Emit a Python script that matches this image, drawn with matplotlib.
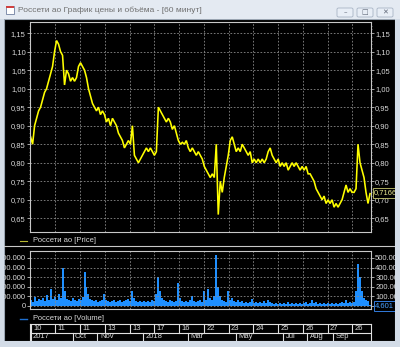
import matplotlib
matplotlib.use("Agg")
import matplotlib.pyplot as plt
from matplotlib.patches import Rectangle, FancyBboxPatch
from matplotlib.lines import Line2D
import numpy as np

# hourly price, read roughly every 2 px of the chart
price = [
    0.87, 0.85, 0.90, 0.92, 0.94, 0.95, 0.97, 0.99, 1.00, 1.02,
    1.04, 1.06, 1.10, 1.13, 1.12, 1.10, 1.09, 1.01, 1.05, 1.04,
    1.02, 1.03, 1.02, 1.03, 1.06, 1.07, 1.06, 1.05, 1.03, 1.00,
    0.98, 0.96, 0.95, 0.94, 0.95, 0.93, 0.94, 0.93, 0.91, 0.92,
    0.90, 0.92, 0.91, 0.90, 0.88, 0.87, 0.86, 0.84, 0.85, 0.86,
    0.85, 0.90, 0.82, 0.81, 0.80, 0.81, 0.82, 0.83, 0.84, 0.83,
    0.84, 0.83, 0.82, 0.83, 0.95, 0.94, 0.93, 0.92, 0.91, 0.92,
    0.91, 0.89, 0.90, 0.88, 0.86, 0.85, 0.855, 0.85, 0.86, 0.84,
    0.83, 0.84, 0.83, 0.82, 0.83, 0.82, 0.81, 0.79, 0.78, 0.77,
    0.76, 0.77, 0.76, 0.85, 0.66, 0.75, 0.72, 0.76, 0.79, 0.82,
    0.86, 0.87, 0.85, 0.83, 0.84, 0.83, 0.85, 0.84, 0.83, 0.82,
    0.83, 0.80, 0.81, 0.80, 0.81, 0.80, 0.81, 0.80, 0.81, 0.83,
    0.84, 0.82, 0.81, 0.80, 0.81, 0.79, 0.80, 0.79, 0.80, 0.78,
    0.79, 0.80, 0.79, 0.80, 0.79, 0.78, 0.79, 0.78, 0.79, 0.77,
    0.77, 0.76, 0.75, 0.73, 0.72, 0.71, 0.70, 0.71, 0.69, 0.70,
    0.69, 0.70, 0.68, 0.69, 0.68, 0.69, 0.70, 0.72, 0.74, 0.72,
    0.73, 0.72, 0.72, 0.73, 0.85, 0.80, 0.78, 0.76, 0.72, 0.69,
    0.7166,
]

# volume in thousands
volume = [
    60, 40, 90, 50, 70, 60, 80, 50, 110, 60,
    180, 70, 90, 60, 120, 80, 390, 150, 70, 60,
    50, 80, 60, 50, 70, 60, 90, 350, 200, 120,
    70, 60, 50, 60, 40, 50, 60, 120, 60, 50,
    40, 50, 60, 40, 50, 60, 40, 50, 60, 70,
    50, 150, 80, 50, 40, 50, 40, 50, 40, 50,
    40, 60, 50, 120, 300, 150, 80, 60, 50, 40,
    60, 50, 40, 50, 240, 80, 50, 40, 50, 40,
    60, 100, 50, 40, 50, 60, 40, 150, 60, 180,
    80, 60, 100, 530, 200, 100, 60, 50, 40, 150,
    60, 80, 50, 40, 60, 40, 50, 30, 40, 30,
    40, 70, 30, 40, 30, 40, 30, 50, 30, 60,
    40, 30, 20, 30, 20, 30, 20, 30, 20, 40,
    20, 30, 20, 30, 20, 30, 20, 30, 40, 20,
    30, 60, 30, 40, 20, 30, 20, 30, 20, 30,
    20, 30, 20, 30, 20, 30, 40, 30, 60, 30,
    40, 30, 40, 150, 440, 300, 150, 80, 60, 50,
    4.6,
]

day_labels = ["10", "11", "11", "13", "13", "17", "16", "22", "23", "24", "25", "26", "27", "26"]
month_labels = ["2017", "Oct", "Nov", "2018", "Mar", "May", "Jul", "Aug", "Sep"]
month_pos = [0, 21, 33.5, 56.5, 79, 103, 126.5, 138.5, 151.5]
price_ticks = [0.65, 0.70, 0.75, 0.80, 0.85, 0.90, 0.95, 1.00, 1.05, 1.10, 1.15]
vol_ticks = [0, 100, 200, 300, 400, 500]

W, H = 400, 347
FONT = "Liberation Sans"
LBL = "#d8d8d8"
GRID = "#8a8a8a"


def fx(px):
    return px / W


def fy(py):
    return 1 - py / H


def box(x0, y0, x1, y1):
    return [fx(x0), fy(y1), (x1 - x0) / W, (y1 - y0) / H]


fig = plt.figure(figsize=(W / 100, H / 100), dpi=100)
fig.patch.set_facecolor("#d3dce7")

# black client area
fig.add_artist(Rectangle((fx(4), fy(341)), (395 - 4) / W, (341 - 19) / H,
                         transform=fig.transFigure, facecolor="black",
                         edgecolor="#9aa5b2", lw=0.8, zorder=-5))

x = np.arange(len(price))
xmax = len(price) - 0.5
step = 12.4
grid_x = [step * k for k in range(1, 14)]

# price panel
ax = fig.add_axes(box(30, 22, 371, 232))
ax.set_facecolor("black")
ax.plot(x, price, color="#ffff00", lw=1.15, solid_joinstyle="miter")
ax.set_xlim(-0.3, xmax)
ax.set_ylim(0.613, 1.18)
ax.set_yticks(price_ticks)
ax.set_yticklabels([f"{v:.2f}".replace(".", ",") for v in price_ticks])
ax.set_yticks(np.arange(0.62, 1.18, 0.01), minor=True)
ax.set_xticks(grid_x)
ax.tick_params(axis="x", length=0, labelbottom=False)
ax.tick_params(axis="y", which="major", left=True, right=True, labelleft=True,
               labelright=True, direction="out", length=2, width=0.6,
               color="#c0c0c0", labelcolor=LBL, labelsize=5.5, pad=1)
ax.tick_params(axis="y", which="minor", left=True, right=True, direction="out",
               length=1, width=0.5, color="#a0a0a0")
ax.grid(True, color=GRID, lw=0.6, ls=(0, (2, 2)))
for s in ax.spines.values():
    s.set_color("#c8c8c8")
    s.set_linewidth(0.8)
for t in ax.get_yticklabels():
    t.set_fontfamily(FONT)

# volume panel
av = fig.add_axes(box(30, 251, 371, 309))
av.set_facecolor("black")
av.bar(np.arange(len(volume)), volume, width=1.0, color="#1e8fff", lw=0)
av.set_xlim(-0.3, xmax)
av.set_ylim(-34, 573)
av.set_yticks(vol_ticks)
av.set_yticklabels(["0"] + [f"{v}.000" for v in vol_ticks[1:]])
av.set_xticks(grid_x)
av.tick_params(axis="x", length=0, labelbottom=False)
av.tick_params(axis="y", left=True, right=True, labelleft=True, labelright=True,
               direction="out", length=2, width=0.6, color="#c0c0c0",
               labelcolor=LBL, labelsize=5.5, pad=1)
av.grid(True, color=GRID, lw=0.6, ls=(0, (2, 2)))
for s in av.spines.values():
    s.set_color("#c8c8c8")
    s.set_linewidth(0.8)
for t in av.get_yticklabels():
    t.set_fontfamily(FONT)
# the right-hand zero sits under the current-volume box
av.yaxis.get_major_ticks()[0].label2.set_visible(False)

# date scale
ad = fig.add_axes(box(30, 324, 371, 341))
ad.set_facecolor("black")
ad.set_xlim(-0.3, xmax)
ad.set_ylim(0, 2)
ad.set_xticks([])
ad.set_yticks([])
for s in ad.spines.values():
    s.set_color("#e0e0e0")
    s.set_linewidth(0.8)
ad.axhline(1, color="#e0e0e0", lw=0.8)
for k, lab in enumerate(day_labels):
    xp = step * k
    ad.plot([xp, xp], [1, 2], color="#e0e0e0", lw=0.8)
    ad.text(xp + 1.2, 1.5, lab, color=LBL, fontsize=5.5, family=FONT, va="center")
for xp, lab in zip(month_pos, month_labels):
    ad.plot([xp, xp], [0, 1], color="#e0e0e0", lw=0.8)
    ad.text(xp + 1.2, 0.5, lab, color=LBL, fontsize=5.5, family=FONT, va="center")

# legends and separator
fig.add_artist(Line2D([fx(20), fx(27)], [fy(241), fy(241)], color="#b8b830", lw=0.8))
fig.text(fx(33), fy(241), "Россети ао [Price]", color=LBL, fontsize=5.5, family=FONT, va="center")
fig.add_artist(Line2D([fx(4), fx(395)], [fy(246), fy(246)], color="#c8c8c8", lw=0.8))
fig.add_artist(Line2D([fx(20), fx(27)], [fy(319), fy(319)], color="#1e6fcf", lw=1.0))
fig.text(fx(33), fy(319), "Россети ао [Volume]", color=LBL, fontsize=5.5, family=FONT, va="center")

# current value boxes
fig.text(fx(374), fy(193), "0,7166", color="#e8e890", fontsize=5.5, family=FONT, va="center",
         bbox=dict(boxstyle="square,pad=0.15", fc="black", ec="#c8c870", lw=0.6), zorder=5)
fig.text(fx(375), fy(306), "4.601", color="#4aa0ff", fontsize=5.5, family=FONT, va="center",
         bbox=dict(boxstyle="square,pad=0.15", fc="black", ec="#3a8fff", lw=0.6), zorder=5)

# window chrome on top of overflowing labels
chrome = "#d3dce7"
for r in [(0, 0, 4, H), (395, 0, W, H), (0, 341, W, H), (0, 0, W, 19)]:
    fig.add_artist(Rectangle((fx(r[0]), fy(r[3])), (r[2] - r[0]) / W, (r[3] - r[1]) / H,
                             transform=fig.transFigure, facecolor=chrome, lw=0, zorder=10))
fig.add_artist(Rectangle((fx(0), fy(19)), 1, 19 / H, transform=fig.transFigure,
                         facecolor="#e4eaf2", lw=0, zorder=10))
fig.add_artist(Rectangle((fx(6), fy(14)), 8 / W, 8 / H, transform=fig.transFigure,
                         facecolor="white", edgecolor="#7080a0", lw=0.6, zorder=11))
fig.add_artist(Rectangle((fx(6), fy(8)), 8 / W, 2 / H, transform=fig.transFigure,
                         facecolor="#d04040", lw=0, zorder=12))
fig.text(fx(18), fy(10), "Россети ао График цены и объёма - [60 минут]", color="#707070",
         fontsize=6, family=FONT, va="center", zorder=12)
for bx, glyph in [(337, "–"), (357, "□"), (377, "✕")]:
    fig.add_artist(FancyBboxPatch((fx(bx), fy(17)), 16 / W, 9 / H,
                                  boxstyle="round,pad=0,rounding_size=0.004",
                                  transform=fig.transFigure, facecolor="#e8eef6",
                                  edgecolor="#a8b4c4", lw=0.6, zorder=11))
    fig.text(fx(bx + 8), fy(12.5), glyph, color="#606878", fontsize=5, ha="center",
             va="center", family="DejaVu Sans", zorder=12)

fig.savefig("out.png", dpi=100, facecolor=fig.get_facecolor())
